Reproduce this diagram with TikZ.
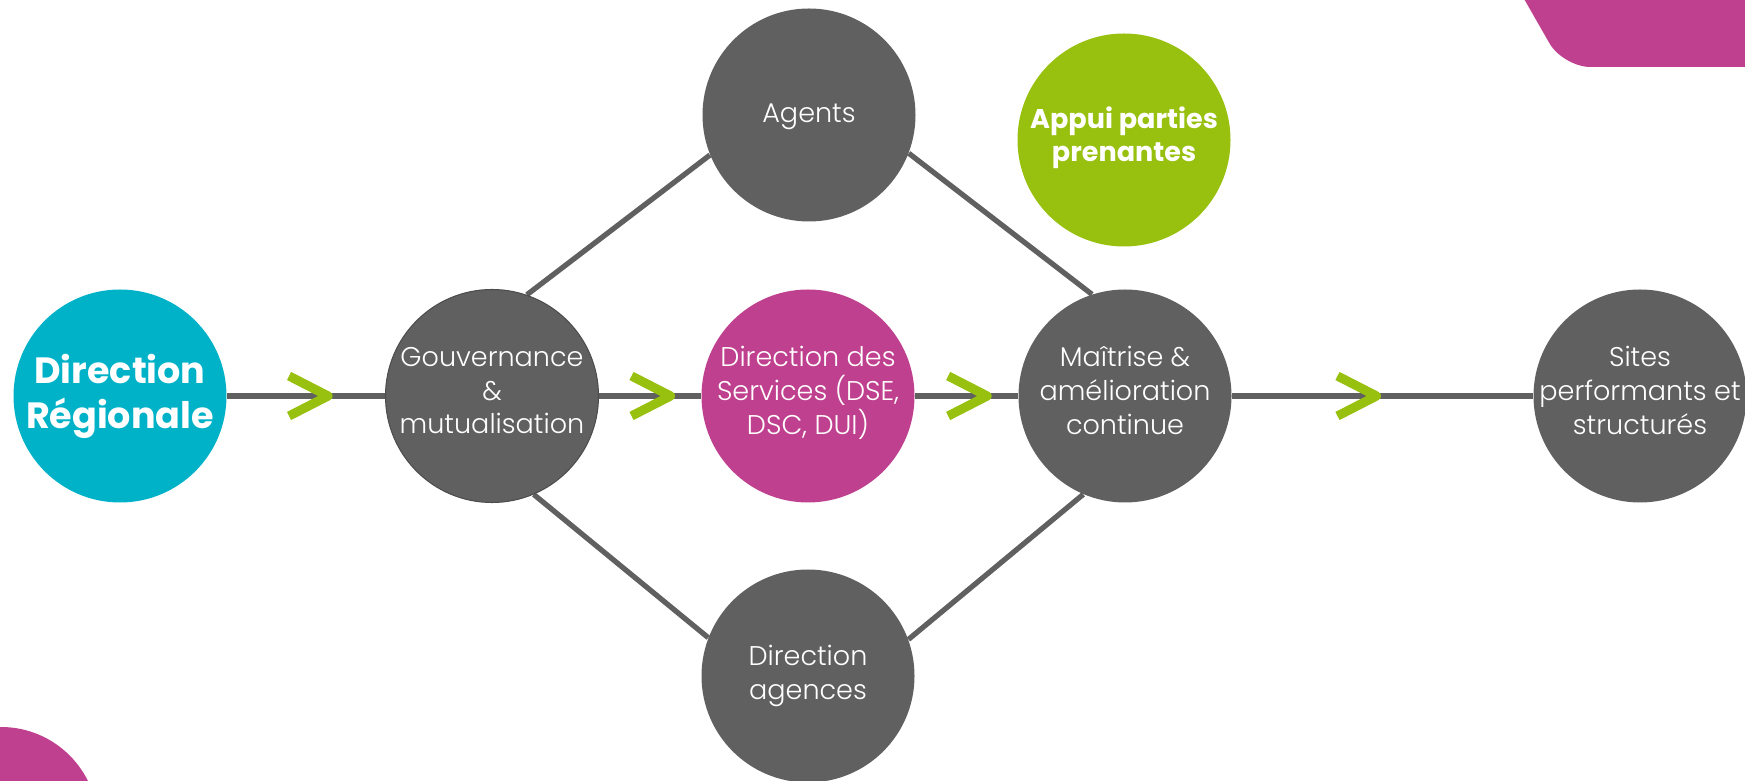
\documentclass[tikz,border=0pt]{standalone}
\usepackage{fontspec}
\setmainfont{Poppins}
\newfontfamily\poplight{Poppins Light}
\usetikzlibrary{backgrounds,decorations.markings}

\definecolor{ashgray}{RGB}{96,96,96}
\definecolor{drteal}{RGB}{0,178,200}
\definecolor{rosemag}{RGB}{191,64,142}
\definecolor{leafgreen}{RGB}{152,192,14}

\tikzset{
  stage/.style={circle, minimum size=4.26cm, inner sep=-0.4cm, fill=ashgray, text=white,
    align=center, font=\poplight\fontsize{15.4}{19.2}\selectfont},
  lifted/.style={text depth=0.22cm},
  link/.style={draw=ashgray, line width=3pt},
  chevron/.style={draw=leafgreen, line width=5.2pt, line join=round},
  flow/.style={link, postaction={decorate}, decoration={markings,
    mark=at position #1 with {\draw[chevron] (-0.78,0.4) -- (0,0) -- (-0.78,-0.4);}}}
}

\begin{document}
\begin{tikzpicture}
        \useasboundingbox (0,0) rectangle (34.9,15.62);
        \clip (0,0) rectangle (34.9,15.62);

        % Corner shapes
        \fill[rosemag, rounded corners=0.55cm] (29.99,16.5) -- (31.26,14.28) -- (35.5,14.28) -- (35.5,16.5) -- cycle;
        \fill[rosemag] (0.02,-0.86) circle (1.94);

        % Stages
        \node[stage, fill=drteal, font=\bfseries\fontsize{20.8}{25.6}\selectfont] (dr) at (2.4,7.7) {Direction\\Régionale};
        \node[stage, lifted, draw=ashgray!80!black, line width=0.6pt] (gov) at (9.84,7.7) {Gouvernance\\\&\\mutualisation};
        \node[stage, text height=0.44cm] (agents) at (16.18,13.32) {Agents};
        \node[stage, lifted, fill=rosemag] (services) at (16.16,7.7) {Direction des\\Services (DSE,\\DSC, DUI)};
        \node[stage] (agences) at (16.16,2.1) {Direction\\agences};
        \node[stage, lifted] (master) at (22.5,7.7) {Maîtrise \&\\amélioration\\continue};
        \node[stage, lifted, fill=leafgreen, font=\bfseries\fontsize{15.4}{18.6}\selectfont] (appui) at (22.48,12.82) {Appui parties\\prenantes};
        \node[stage, lifted] (sites) at (32.8,7.7) {Sites\\performants et\\structurés};

        % Connectors
        \begin{scope}[on background layer]
            \draw[flow=0.64] (dr) -- (gov);
            \draw[flow=0.70] (gov) -- (services);
            \draw[flow=0.70] (services) -- (master);
            \draw[flow=0.48] (master) -- (sites);
            \foreach \a/\b in {gov.71/agents.202, gov.293/agences.159, agents.339/master.108, agences.20/master.247}
                \draw[link] (\a) -- (\b);
        \end{scope}
\end{tikzpicture}
\end{document}
